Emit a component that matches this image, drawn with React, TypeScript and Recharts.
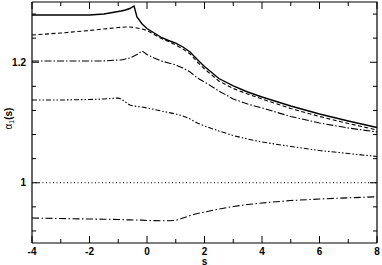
import React from 'react';
import { LineChart, Line, XAxis, YAxis, ReferenceLine } from 'recharts';

// s values (shared by every curve)
const sValues = [-4, -3, -2, -1.5, -1, -0.9, -0.75, -0.6, -0.45, -0.35, -0.17, 0, 0.25, 0.5, 0.75, 1, 1.25, 1.5, 1.75, 2, 2.5, 3, 3.5, 4, 5, 6, 7, 8];

// solid curve (top)
const alphaSolid = [1.2784, 1.2784, 1.2784, 1.2801, 1.2842, 1.2851, 1.2867, 1.2892, 1.2934, 1.2751, 1.2635, 1.256, 1.2485, 1.2411, 1.2361, 1.2319, 1.2253, 1.217, 1.2046, 1.1929, 1.173, 1.1606, 1.1506, 1.1423, 1.1274, 1.1141, 1.1025, 1.0917];
// dashed curve
const alphaDashed = [1.2452, 1.2485, 1.2527, 1.2552, 1.2577, 1.258, 1.2585, 1.2585, 1.2577, 1.2568, 1.2552, 1.2527, 1.2461, 1.2394, 1.2344, 1.2286, 1.222, 1.2137, 1.2004, 1.1888, 1.1689, 1.1564, 1.1473, 1.139, 1.1232, 1.11, 1.0983, 1.0876];
// dash-dot curve starting at 1.2
const alphaDashDot = [1.2021, 1.2021, 1.2021, 1.2021, 1.2037, 1.2037, 1.2054, 1.2071, 1.2104, 1.2129, 1.2187, 1.2129, 1.2071, 1.2021, 1.1988, 1.1954, 1.1905, 1.1838, 1.1739, 1.1672, 1.1523, 1.139, 1.1307, 1.1241, 1.11, 1.0992, 1.0909, 1.0842];
// dash-dot-dot curve
const alphaDashDotDot = [1.1373, 1.1373, 1.1382, 1.139, 1.1407, 1.139, 1.134, 1.129, 1.1274, 1.1266, 1.1257, 1.1241, 1.1216, 1.1191, 1.1166, 1.1141, 1.1108, 1.1058, 1.0992, 1.0942, 1.0859, 1.0784, 1.0726, 1.0676, 1.0602, 1.0535, 1.0485, 1.0436];
// long dash-dot curve below 1
const alphaLow = [0.9415, 0.9406, 0.9398, 0.9395, 0.939, 0.9389, 0.9385, 0.9383, 0.9382, 0.9381, 0.9379, 0.9373, 0.9371, 0.937, 0.937, 0.9373, 0.9415, 0.9456, 0.9489, 0.9514, 0.9564, 0.9606, 0.9639, 0.9664, 0.9705, 0.973, 0.975, 0.9768];
// dotted level
const unityLevel = 1;

const xDomain = [-4, 8];
const yDomain = [0.9, 1.3];
const xTicks = [-4, -3, -2, -1, 0, 1, 2, 3, 4, 5, 6, 7, 8];
const xLabelled = [-4, -2, 0, 2, 4, 6, 8];
const yTicks = [0.92, 0.96, 1, 1.04, 1.08, 1.12, 1.16, 1.2, 1.24, 1.28];
const yLabelled = [1, 1.2];

const data = sValues.map((s, i) => ({
  s,
  solid: alphaSolid[i],
  dashed: alphaDashed[i],
  dashDot: alphaDashDot[i],
  dashDotDot: alphaDashDotDot[i],
  low: alphaLow[i],
}));

const FONT = '"Liberation Sans", Arial, Helvetica, sans-serif';

// plot is 345 x 241 px: inward tick lengths (px) in data units
const PX_X = (xDomain[1] - xDomain[0]) / 345;
const PX_Y = (yDomain[1] - yDomain[0]) / 241;
const MAJOR_LEN = 7;
const MINOR_LEN = 4;

const isLabelled = (list: number[], v: number) => list.some((t) => Math.abs(t - v) < 1e-6);

// top and right sides of the frame
const frameData = [
  { s: xDomain[0], v: yDomain[1] },
  { s: xDomain[1], v: yDomain[1] },
  { s: xDomain[1], v: yDomain[0] },
];

// inward tick marks, one short segment each, separated by gaps (null)
const tickMarkData = [
  ...xTicks.flatMap((t) => {
    const len = (isLabelled(xLabelled, t) ? MAJOR_LEN : MINOR_LEN) * PX_Y;
    return [
      { s: t, v: yDomain[0] },
      { s: t, v: yDomain[0] + len },
      { s: t, v: null },
      { s: t, v: yDomain[1] },
      { s: t, v: yDomain[1] - len },
      { s: t, v: null },
    ];
  }),
  ...yTicks.flatMap((t) => {
    const len = (isLabelled(yLabelled, t) ? MAJOR_LEN : MINOR_LEN) * PX_X;
    return [
      { s: xDomain[0], v: t },
      { s: xDomain[0] + len, v: t },
      { s: xDomain[0], v: null },
      { s: xDomain[1], v: t },
      { s: xDomain[1] - len, v: t },
      { s: xDomain[1], v: null },
    ];
  }),
];

const BottomLabel = (props: any) => {
  const { x, y, payload } = props;
  if (!isLabelled(xLabelled, payload.value)) return <g />;
  return (
    <text x={x} y={y + 9.5} textAnchor="middle" fontSize={10} fontWeight="bold" fontFamily={FONT} fill="#000">
      {payload.value}
    </text>
  );
};

const LeftLabel = (props: any) => {
  const { x, y, payload } = props;
  if (!isLabelled(yLabelled, payload.value)) return <g />;
  return (
    <text x={x - 4} y={y + 3.5} textAnchor="end" fontSize={10} fontWeight="bold" fontFamily={FONT} fill="#000">
      {payload.value}
    </text>
  );
};

const XTitle = (props: any) => {
  const { viewBox } = props;
  return (
    <text x={viewBox.x + viewBox.width / 2} y={viewBox.y + 21.5} textAnchor="middle" fontSize={10} fontWeight="bold" fontFamily={FONT} fill="#000">
      s
    </text>
  );
};

const YTitle = (props: any) => {
  const { viewBox } = props;
  const cx = viewBox.x + 12;
  const cy = viewBox.y + viewBox.height / 2 - 4;
  return (
    <text x={cx} y={cy} transform={`rotate(-90, ${cx}, ${cy})`} textAnchor="middle" fontSize={10} fontFamily={FONT} fill="#000">
      α<tspan fontSize={7} dy={2}>1</tspan>
      <tspan dy={-2} fontWeight="bold">(s)</tspan>
    </text>
  );
};

const App: React.FC = () => {
  return (
    <div style={{ position: 'absolute', left: 0, top: 0 }}>
      <LineChart width={382} height={265} data={data} margin={{ top: 2, right: 5, bottom: 0, left: 0 }}>
        <XAxis
          dataKey="s"
          type="number"
          domain={xDomain}
          ticks={xTicks}
          interval={0}
          height={22}
          tickSize={0}
          tickLine={false}
          axisLine={{ stroke: '#000', strokeWidth: 1.2 }}
          tick={<BottomLabel />}
          label={<XTitle />}
        />
        <YAxis
          type="number"
          domain={yDomain}
          ticks={yTicks}
          interval={0}
          width={32}
          tickSize={0}
          tickLine={false}
          axisLine={{ stroke: '#000', strokeWidth: 1.2 }}
          tick={<LeftLabel />}
          label={<YTitle />}
        />
        <ReferenceLine y={unityLevel} stroke="#000" strokeWidth={1.1} strokeDasharray="1 2.5" />
        <Line data={frameData} type="linear" dataKey="v" stroke="#000" strokeWidth={1.2} dot={false} activeDot={false} isAnimationActive={false} />
        <Line data={tickMarkData} type="linear" dataKey="v" stroke="#000" strokeWidth={1} dot={false} activeDot={false} connectNulls={false} isAnimationActive={false} />
        <Line type="linear" dataKey="solid" stroke="#000" strokeWidth={1.4} dot={false} isAnimationActive={false} />
        <Line type="linear" dataKey="dashed" stroke="#000" strokeWidth={1.1} strokeDasharray="4 2.5" dot={false} isAnimationActive={false} />
        <Line type="linear" dataKey="dashDot" stroke="#000" strokeWidth={1.1} strokeDasharray="7 2 1.5 2" dot={false} isAnimationActive={false} />
        <Line type="linear" dataKey="dashDotDot" stroke="#000" strokeWidth={1.1} strokeDasharray="5 2 1.5 2 1.5 2" dot={false} isAnimationActive={false} />
        <Line type="linear" dataKey="low" stroke="#000" strokeWidth={1.1} strokeDasharray="7 2.5 1.5 2.5" dot={false} isAnimationActive={false} />
      </LineChart>
    </div>
  );
};

export default App;
